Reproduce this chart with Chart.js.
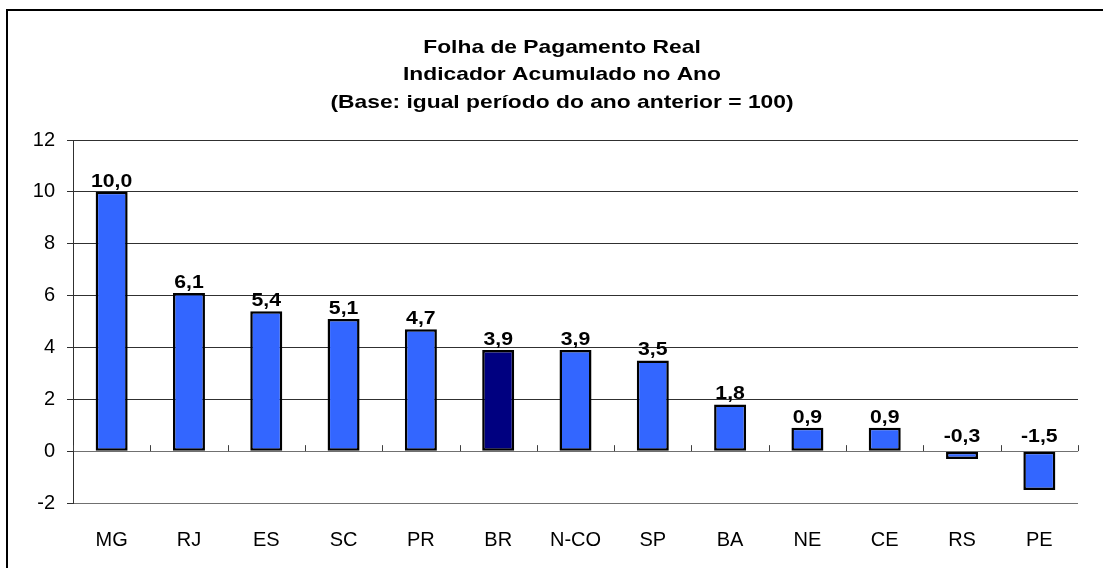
<!DOCTYPE html>
<html><head><meta charset="utf-8">
<script src="https://cdn.jsdelivr.net/npm/chart.js@4.4.1/dist/chart.umd.min.js"></script>
<style>html,body{margin:0;padding:0;background:#fff}#wrap{width:1103px;height:568px;position:relative}</style>
</head><body><div id="wrap"><canvas id="c" width="1103" height="568"></canvas></div>
<script>
const categories = ['MG','RJ','ES','SC','PR','BR','N-CO','SP','BA','NE','CE','RS','PE'];
const values = [10.0, 6.1, 5.4, 5.1, 4.7, 3.9, 3.9, 3.5, 1.8, 0.9, 0.9, -0.3, -1.5];
const valueLabels = ['10,0','6,1','5,4','5,1','4,7','3,9','3,9','3,5','1,8','0,9','0,9','-0,3','-1,5'];
const highlight = 'BR';
const titleLines = ['Folha de Pagamento Real','Indicador Acumulado no Ano','(Base: igual período do ano anterior = 100)'];
const yTicks = [-2,0,2,4,6,8,10,12];

const FONT = '"Liberation Sans", Arial, sans-serif';

function stretchedText(ctx, text, x, y, sx) {
  ctx.save();
  ctx.translate(x, y);
  ctx.scale(sx, 1);
  ctx.fillText(text, 0, 0);
  ctx.restore();
}

const decor = {
  id: 'decor',
  beforeDraw(chart) {
    const ctx = chart.ctx;
    ctx.save();
    ctx.fillStyle = '#fff';
    ctx.fillRect(0, 0, chart.width, chart.height);
    ctx.strokeStyle = '#000';
    ctx.lineWidth = 2;
    ctx.strokeRect(7, 10, 1200, 700);
    ctx.restore();
  },
  afterDatasetsDraw(chart) {
    const ctx = chart.ctx;
    const x = chart.scales.x, y = chart.scales.y;
    const y0 = y.getPixelForValue(0);
    ctx.save();
    ctx.strokeStyle = '#404040';
    ctx.lineWidth = 1;
    for (let i = 0; i <= categories.length; i++) {
      const px = Math.round(x.left + (x.right - x.left) * i / categories.length) + 0.5;
      ctx.beginPath();
      ctx.moveTo(px, y0);
      ctx.lineTo(px, y0 - 6);
      ctx.stroke();
    }
    ctx.fillStyle = '#000';
    ctx.font = 'bold 18px ' + FONT;
    ctx.textAlign = 'center';
    ctx.textBaseline = 'alphabetic';
    const meta = chart.getDatasetMeta(0);
    meta.data.forEach((bar, i) => {
      const v = values[i];
      const base = v >= 0 ? y.getPixelForValue(v) - 5 : y0 - 9;
      stretchedText(ctx, valueLabels[i], bar.x, base, 1.18);
    });
    ctx.font = 'bold 19px ' + FONT;
    ctx.textBaseline = 'middle';
    const tys = [48, 75, 103];
    titleLines.forEach((t, i) => stretchedText(ctx, t, 562, tys[i], 1.2));
    ctx.restore();
  }
};

new Chart(document.getElementById('c'), {
  type: 'bar',
  data: {
    labels: categories,
    datasets: [{
      data: values,
      backgroundColor: categories.map(c => c === highlight ? '#000080' : '#3366FF'),
      borderColor: '#000',
      borderWidth: 2.5,
      borderSkipped: false,
      categoryPercentage: 1,
      barPercentage: 0.414
    }]
  },
  plugins: [decor],
  options: {
    responsive: false,
    animation: false,
    devicePixelRatio: 1,
    layout: { padding: { top: 140, right: 25, left: 0, bottom: 0 } },
    plugins: { legend: { display: false }, tooltip: { enabled: false }, title: { display: false } },
    scales: {
      x: {
        grid: { display: false, drawTicks: false },
        border: { display: false },
        ticks: { color: '#000', font: { family: FONT, size: 20 }, padding: 25, maxRotation: 0, autoSkip: false },
        afterFit(s) { s.height = 65; }
      },
      y: {
        min: -2, max: 12,
        afterBuildTicks(s) { s.ticks = yTicks.map(v => ({ value: v })); },
        grid: {
          color: ctx => (ctx.tick && (ctx.tick.value === 0 || ctx.tick.value === -2)) ? '#707070' : '#303030',
          lineWidth: 1,
          drawTicks: true,
          tickLength: 6,
          tickColor: '#303030'
        },
        border: { display: true, color: '#303030', width: 1 },
        ticks: { color: '#000', font: { family: FONT, size: 20 }, padding: 12 },
        afterFit(s) { s.width = 73; }
      }
    }
  }
});
</script></body></html>
